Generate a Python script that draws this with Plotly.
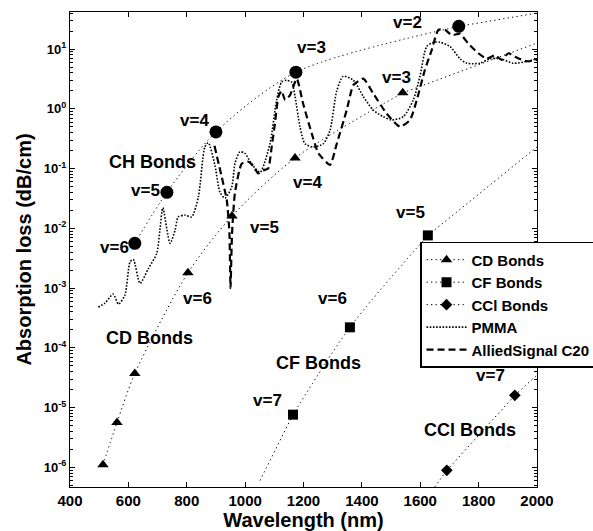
import plotly.graph_objects as go

# ---- Overtone band positions (nm) and peak losses (dB/cm) ----
ch_wl = [622, 732, 900, 1174, 1732]            # C-H, v=6 .. v=2
ch_loss = [5.6e-3, 0.040, 0.41, 4.1, 24]
ch_tail_wl = [1732, 2000]
ch_tail_loss = [24, 40]

cd_wl = [513, 561, 622, 804, 955, 1171, 1540]  # C-D, v=9 .. v=3
cd_loss = [1.1e-6, 5.6e-6, 3.7e-5, 1.8e-3, 0.016, 0.15, 1.85]
cd_tail_wl = [1540, 2000]
cd_tail_loss = [1.85, 12.6]

cf_wl = [1164, 1359, 1626]                     # C-F, v=7 .. v=5
cf_loss = [7.6e-6, 2.2e-4, 7.6e-3]
cf_head_wl = [1051, 1164]
cf_head_loss = [6.0e-7, 7.6e-6]
cf_tail_wl = [1626, 2000]
cf_tail_loss = [7.6e-3, 0.23]

ccl_wl = [1691, 1924]                          # C-Cl, v=8 .. v=7
ccl_loss = [8.9e-7, 1.6e-5]
ccl_head_wl = [1650, 1691]
ccl_head_loss = [4.7e-7, 8.9e-7]
ccl_tail_wl = [1924, 2000]
ccl_tail_loss = [1.6e-5, 3.5e-5]

# ---- Measured spectra (dB/cm) ----
pmma_wl = [497, 520, 548, 566, 588, 606, 617, 640, 668, 697, 708, 718, 743, 760,
           771, 794, 817, 840, 862, 874, 897, 914, 931, 954, 965, 982, 999, 1022,
           1051, 1085, 1108, 1125, 1142, 1159, 1171, 1188, 1205, 1234, 1268, 1291,
           1314, 1336, 1371, 1405, 1439, 1473, 1502, 1542, 1576, 1599, 1622, 1645,
           1668, 1702, 1736, 1759, 1805, 1839, 1873, 1919, 1965, 2000]
pmma_loss = [4.8e-4, 5.6e-4, 7.9e-4, 5.4e-4, 7.6e-4, 2.75e-3, 3.0e-3, 1.2e-3,
             2.1e-3, 3.8e-3, 9.3e-3, 2.2e-2, 5.6e-3, 9.3e-3, 1.55e-2, 1.66e-2,
             1.55e-2, 3.4e-2, 0.23, 0.27, 0.11, 0.040, 0.032, 0.049, 0.12, 0.19,
             0.18, 0.12, 0.087, 0.26, 1.4, 2.8, 3.0, 2.8, 1.6, 0.50, 0.26, 0.23,
             0.26, 0.44, 2.0, 3.5, 3.0, 1.6, 0.95, 0.74, 0.65, 0.74, 1.4, 3.5,
             11, 13, 13, 11, 6.9, 5.8, 5.8, 6.9, 6.9, 5.8, 6.2, 6.9]

c20_wl = [895, 920, 937, 946, 950, 955, 965, 988, 1011, 1028, 1045, 1062, 1079,
          1091, 1102, 1114, 1125, 1137, 1154, 1177, 1199, 1228, 1251, 1291, 1314,
          1348, 1371, 1405, 1439, 1485, 1531, 1565, 1588, 1616, 1639, 1662, 1685,
          1708, 1736, 1765, 1799, 1828, 1856, 1879, 1902, 1925, 1948, 1970, 2000]
c20_loss = [0.24, 0.072, 0.030, 0.0089, 0.0010, 0.0079, 0.039, 0.12, 0.13, 0.11,
            0.083, 0.093, 0.10, 0.23, 0.56, 1.6, 2.0, 1.4, 1.7, 3.2, 1.2, 0.39,
            0.18, 0.115, 0.26, 0.95, 2.5, 3.2, 1.8, 0.83, 0.50, 0.65, 1.4, 4.5,
            9.5, 21, 21, 17, 18, 12.3, 8.5, 6.9, 7.9, 6.6, 8.5, 7.4, 6.6, 6.2, 6.6]

# ---- Axis ticks ----
x_ticks = [400, 600, 800, 1000, 1200, 1400, 1600, 1800, 2000]
y_exps = [-6, -5, -4, -3, -2, -1, 0, 1]

FONT = "Liberation Sans, Arial, sans-serif"
FIT_DASH = "1.3px,3.2px"
BLACK = "black"

fig = go.Figure()

# legend entries first, in legend order
fig.add_trace(go.Scatter(x=cd_wl, y=cd_loss, name="CD Bonds", mode="lines+markers",
                         line=dict(color=BLACK, width=1, dash=FIT_DASH, shape="spline", smoothing=0.8),
                         marker=dict(symbol="triangle-up", size=10, color=BLACK)))
fig.add_trace(go.Scatter(x=cf_wl, y=cf_loss, name="CF Bonds", mode="lines+markers",
                         line=dict(color=BLACK, width=1, dash=FIT_DASH, shape="spline", smoothing=0.8),
                         marker=dict(symbol="square", size=10, color=BLACK)))
fig.add_trace(go.Scatter(x=ccl_wl, y=ccl_loss, name="CCl Bonds", mode="lines+markers",
                         line=dict(color=BLACK, width=1, dash=FIT_DASH),
                         marker=dict(symbol="diamond", size=9, color=BLACK)))
fig.add_trace(go.Scatter(x=pmma_wl, y=pmma_loss, name="PMMA", mode="lines",
                         line=dict(color=BLACK, width=1.6, dash="1.6px,1.6px",
                                   shape="spline", smoothing=0.7)))
fig.add_trace(go.Scatter(x=c20_wl, y=c20_loss, name="AlliedSignal C20", mode="lines",
                         line=dict(color=BLACK, width=2.2, dash="7px,4px",
                                   shape="spline", smoothing=0.5)))

# C-H overtones (markers + fitted curve)
fig.add_trace(go.Scatter(x=ch_wl, y=ch_loss, mode="lines+markers", showlegend=False,
                         line=dict(color=BLACK, width=1, dash=FIT_DASH, shape="spline", smoothing=0.8),
                         marker=dict(symbol="circle", size=13, color=BLACK)))

# extensions of the fitted overtone curves
for xs, ys in [(ch_tail_wl, ch_tail_loss), (cd_tail_wl, cd_tail_loss),
               (cf_head_wl, cf_head_loss), (cf_tail_wl, cf_tail_loss),
               (ccl_head_wl, ccl_head_loss), (ccl_tail_wl, ccl_tail_loss)]:
    fig.add_trace(go.Scatter(x=xs, y=ys, mode="lines", showlegend=False, hoverinfo="skip",
                             line=dict(color=BLACK, width=1, dash=FIT_DASH)))

# overtone labels: (text, wavelength, log10 loss, size)
labels = [
    ("v=2", 1558, 1.44, 17), ("v=3", 1226, 1.03, 17), ("v=4", 825, -0.19, 17),
    ("CH Bonds", 681, -0.89, 18), ("v=5", 657, -1.36, 17), ("v=6", 551, -2.32, 17),
    ("v=3", 1520, 0.53, 17), ("v=4", 1212, -1.23, 17), ("v=5", 1068, -1.98, 17),
    ("v=6", 838, -3.17, 17), ("CD Bonds", 674, -3.84, 18),
    ("v=5", 1565, -1.73, 17), ("v=6", 1298, -3.17, 17), ("CF Bonds", 1253, -4.26, 18),
    ("v=7", 1078, -4.88, 17), ("v=7", 1842, -4.47, 17), ("CCl Bonds", 1770, -5.38, 18),
]
for text, lx, ly, size in labels:
    fig.add_annotation(x=lx, y=ly, text=text, showarrow=False,
                       font=dict(family=FONT, size=size, color=BLACK, weight="bold"))

fig.update_layout(
    width=593, height=531,
    margin=dict(l=70, r=56, t=12, b=44, autoexpand=False),
    paper_bgcolor="white", plot_bgcolor="white",
    font=dict(family=FONT, color=BLACK),
    legend=dict(x=0.7495, y=0.516, xanchor="left", yanchor="top",
                bgcolor="white", bordercolor=BLACK, borderwidth=1.5,
                font=dict(family=FONT, size=15, color=BLACK, weight="bold"),
                itemwidth=40, tracegroupgap=0),
    showlegend=True,
)

fig.update_xaxes(
    range=[400, 2000], tickvals=x_ticks, ticks="inside", ticklen=5, tickcolor=BLACK,
    showline=True, linecolor=BLACK, linewidth=1.2, mirror="ticks", showgrid=False,
    zeroline=False,
    tickfont=dict(family=FONT, size=15, color=BLACK, weight="bold"),
    title=dict(text="Wavelength (nm)", standoff=2,
               font=dict(family=FONT, size=20, color=BLACK, weight="bold")),
)

minor_vals = [m * 10 ** e for e in range(-7, 2) for m in range(2, 10)]
fig.update_yaxes(
    type="log", range=[-6.33, 1.62],
    tickvals=[10 ** e for e in y_exps],
    ticktext=[f"10<sup>{e}</sup>" for e in y_exps],
    ticks="inside", ticklen=5, tickcolor=BLACK,
    minor=dict(tickvals=minor_vals, ticks="inside", ticklen=2.5, tickcolor=BLACK),
    showline=True, linecolor=BLACK, linewidth=1.2, mirror="ticks", showgrid=False,
    tickfont=dict(family=FONT, size=13, color=BLACK, weight="bold"),
    title=dict(text="Absorption loss (dB/cm)", standoff=6,
               font=dict(family=FONT, size=20, color=BLACK, weight="bold")),
)

fig.write_html("out.html")
